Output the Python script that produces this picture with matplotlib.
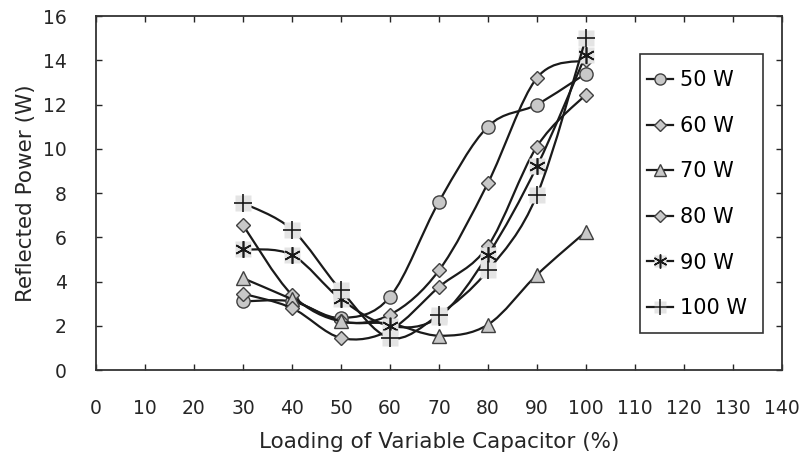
import numpy as np
import matplotlib
matplotlib.use("Agg")
import matplotlib.pyplot as plt
from matplotlib.path import Path
from matplotlib.patches import PathPatch, Rectangle
from matplotlib.lines import Line2D

plt.rcParams['font.family'] = ['DejaVu Sans']

loading = [30, 40, 50, 60, 70, 80, 90, 100]
p50 = [3.1, 3.1, 2.35, 3.3, 7.6, 11.0, 12.0, 13.4]
p60 = [6.55, 3.4, 2.2, 2.5, 4.5, 8.45, 13.2, 14.0]
p70 = [4.15, 3.2, 2.2, 2.1, 1.55, 2.05, 4.3, 6.25]
p80 = [3.45, 2.8, 1.45, 1.8, 3.75, 5.6, 10.1, 12.45]
p90 = [5.45, 5.2, 3.2, 2.0, 2.4, 5.2, 9.2, 14.25]
p100 = [7.55, 6.35, 3.6, 1.45, 2.5, 4.5, 7.9, 15.0]

labels = ["50 W", "60 W", "70 W", "80 W", "90 W", "100 W"]
series = [p50, p60, p70, p80, p90, p100]
markers = ['o', 'D', '^', 'D', (6, 2, 0), '+']
sizes = [9.5, 7.5, 9.5, 7.5, 12, 13]
shaded = [False, False, False, False, True, True]

LINE = '#1a1a1a'
FACE = '#c8c8c8'
EDGE = '#404040'
BOX = '#e4e4e4'
TXT = '#262626'


def smooth_path(x, y, t=1 / 6):
    # Excel-like smoothed line: Catmull-Rom segments as cubic Beziers
    px = [x[0]] + list(x) + [x[-1]]
    py = [y[0]] + list(y) + [y[-1]]
    verts = [(x[0], y[0])]
    codes = [Path.MOVETO]
    for i in range(1, len(px) - 2):
        c1 = (px[i] + (px[i + 1] - px[i - 1]) * t, py[i] + (py[i + 1] - py[i - 1]) * t)
        c2 = (px[i + 1] - (px[i + 2] - px[i]) * t, py[i + 1] - (py[i + 2] - py[i]) * t)
        verts += [c1, c2, (px[i + 1], py[i + 1])]
        codes += [Path.CURVE4] * 3
    return Path(verts, codes)


fig = plt.figure(figsize=(8.11, 4.67), dpi=100)
ax = fig.add_axes([0.1184, 0.2077, 0.8456, 0.758])

handles = []
for i, (vals, lab) in enumerate(zip(series, labels)):
    z = 3 + i
    ax.add_patch(PathPatch(smooth_path(loading, vals), facecolor='none',
                           edgecolor=LINE, lw=1.6, zorder=z))
    if shaded[i]:
        ax.plot(loading, vals, ls='none', marker='s', ms=11, mfc=BOX, mec='none', zorder=z)
        ax.plot(loading, vals, ls='none', marker=markers[i], ms=sizes[i],
                mec=LINE, mew=1.2, zorder=z)
        h = (Line2D([], [], color=LINE, lw=1.6, marker='s', ms=9, mfc=BOX, mec='none'),
             Line2D([], [], ls='none', marker=markers[i], ms=sizes[i] - 2, mec=LINE, mew=1.1))
    else:
        ax.plot(loading, vals, ls='none', marker=markers[i], ms=sizes[i],
                mfc=FACE, mec=EDGE, mew=1.0, zorder=z)
        h = Line2D([], [], color=LINE, lw=1.6, marker=markers[i], ms=sizes[i] - 1.5,
                   mfc=FACE, mec=EDGE, mew=1.0)
    handles.append(h)

ax.set_xlim(0, 140)
ax.set_ylim(0, 16)
ax.set_xticks(range(0, 141, 10))
ax.set_yticks(range(0, 17, 2))
ax.tick_params(direction='in', top=True, right=True, length=4, width=1,
               labelsize=13.5, colors=TXT, pad=21)
for s in ax.spines.values():
    s.set_linewidth(1.3)
    s.set_color('#333333')

ax.set_xlabel('Loading of Variable Capacitor (%)', fontsize=15.5, color=TXT, labelpad=10)
ax.set_ylabel('Reflected Power (W)', fontsize=15.5, color=TXT, labelpad=5)

# legend frame drawn separately (padding is wider vertically than horizontally)
ax.add_patch(Rectangle((0.793, 0.1045), 0.179, 0.788, transform=ax.transAxes,
                       facecolor='white', edgecolor='#333333', lw=1.2, zorder=20))
leg = ax.legend(handles, labels, loc='upper left', bbox_to_anchor=(0.803, 0.847),
                fontsize=15, frameon=False, handlelength=1.25, handletextpad=0.34,
                labelspacing=1.23, borderpad=0, borderaxespad=0)
leg.set_zorder(21)

fig.savefig('out.png', dpi=100)
